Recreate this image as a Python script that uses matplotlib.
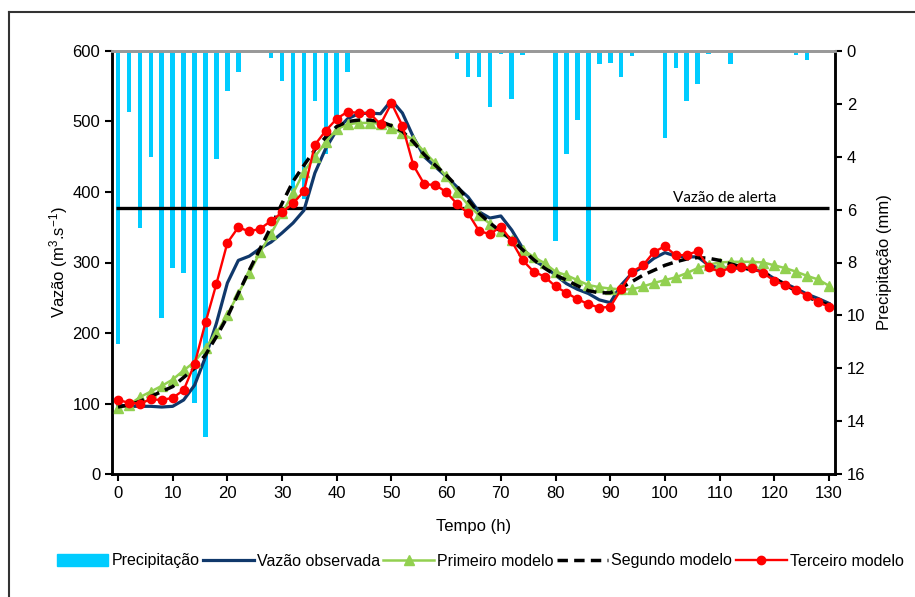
import matplotlib
matplotlib.use('Agg')
import matplotlib.pyplot as plt
from matplotlib.lines import Line2D
from matplotlib.patches import Patch

plt.rcParams['font.family'] = ['Liberation Sans', 'DejaVu Sans']
plt.rcParams['mathtext.fontset'] = 'custom'
plt.rcParams['mathtext.rm'] = 'Liberation Sans'
plt.rcParams['mathtext.it'] = 'Liberation Sans'

# ------------------------------------------------------------
#  dados (passo de 2 h)
# ------------------------------------------------------------
horas = list(range(0, 131, 2))

precipitacao = [11.1, 2.3, 6.7, 4.0, 10.1, 8.2, 8.4, 13.3, 14.6, 4.1,
                1.5, 0.8, 0.05, 0.05, 0.25, 1.15, 5.3, 5.6, 1.9, 3.9,
                2.7, 0.8, 0.05, 0.05, 0.05, 0.05, 0.05, 0.05, 0.05, 0.05,
                0.05, 0.3, 1.0, 1.0, 2.1, 0.1, 1.8, 0.15, 0.05, 0.05,
                7.2, 3.9, 2.6, 8.7, 0.5, 0.45, 1.0, 0.2, 0.05, 0.05,
                3.3, 0.65, 1.9, 1.25, 0.1, 0.05, 0.5, 0.05, 0.05, 0.05,
                0.05, 0.05, 0.15, 0.35, 0.05, 0.05]

vazao_obs = [98, 96, 96, 96, 95, 96, 105, 126, 166, 214,
             271, 303, 309, 320, 329, 342, 356, 374, 427, 462,
             488, 504, 511, 512, 511, 530, 512, 478, 450, 436,
             422, 407, 393, 372, 363, 366, 346, 320, 303, 294,
             282, 270, 262, 256, 247, 243, 268, 285, 294, 306,
             314, 309, 308, 308, 296, 292, 292, 292, 290, 287,
             277, 270, 263, 255, 249, 242]

primeiro = [93, 98, 109, 117, 125, 134, 147, 159, 179, 200,
            226, 256, 285, 315, 341, 370, 398, 429, 450, 471,
            489, 496, 498, 498, 497, 491, 483, 474, 457, 441,
            422, 400, 382, 367, 355, 344, 332, 318, 308, 299,
            287, 282, 275, 268, 265, 263, 262, 262, 266, 271,
            275, 279, 285, 292, 297, 300, 301, 301, 301, 300,
            296, 292, 287, 281, 276, 267]

segundo = [95, 98, 103, 110, 117, 124, 137, 150, 169, 195,
           223, 256, 289, 320, 351, 384, 415, 438, 460, 478,
           493, 500, 502, 502, 500, 494, 486, 471, 453, 438,
           424, 408, 389, 370, 356, 344, 332, 318, 304, 292,
           282, 275, 267, 260, 257, 257, 264, 273, 282, 289,
           296, 301, 305, 307, 306, 303, 298, 294, 289, 285,
           278, 268, 260, 252, 244, 240]

terceiro = [105, 101, 100, 106, 105, 108, 119, 156, 215, 270,
            328, 350, 344, 348, 359, 371, 384, 401, 467, 487,
            504, 514, 512, 512, 496, 526, 494, 438, 411, 410,
            400, 383, 370, 345, 340, 351, 330, 303, 287, 280,
            266, 257, 248, 241, 236, 237, 262, 287, 296, 315,
            323, 310, 311, 316, 293, 287, 292, 293, 292, 285,
            274, 268, 261, 253, 244, 237]

vazao_alerta = 377

COR_CHUVA = '#00CCFF'
COR_OBS = '#10386B'
COR_P1 = '#92D050'
COR_P3 = '#FF0000'

# ------------------------------------------------------------
#  figura
# ------------------------------------------------------------
W, H = 915, 597
fig = plt.figure(figsize=(W / 100, H / 100), dpi=100)
ax = fig.add_axes([112 / W, 1 - 474 / H, (835 - 112) / W, (474 - 51) / H])
ax2 = ax.twinx()
ax.set_zorder(ax2.get_zorder() + 1)
ax.patch.set_visible(False)

# precipitação (eixo invertido, à direita)
ax2.bar(horas, precipitacao, width=0.85, color=COR_CHUVA, linewidth=0)
ax2.set_ylim(16, 0)
ax2.set_yticks(range(0, 17, 2))
ax2.set_ylabel('Precipitação (mm)', fontsize=12, labelpad=8)

# vazões
ax.hlines(vazao_alerta, horas[0] - 0.4, horas[-1], color='black', lw=2.4)
ax.text(111, vazao_alerta + 5, 'Vazão de alerta', ha='center', va='bottom',
        fontsize=11, family=['Lato', 'DejaVu Sans'])
ax.plot(horas, vazao_obs, color=COR_OBS, lw=2.3)
ax.plot(horas, primeiro, color=COR_P1, lw=1.8, marker='^', markersize=6.5)
ax.plot(horas, segundo, color='black', lw=2.5, dashes=(3, 1.8))
ax.plot(horas, terceiro, color=COR_P3, lw=1.7, marker='o', markersize=6)

ax.set_xlim(-1.1, 131.1)
ax.set_ylim(0, 600)
ax.set_xticks(range(0, 131, 10))
ax.set_yticks(range(0, 601, 100))
ax.set_xlabel('Tempo (h)', fontsize=12, labelpad=13)
ax.set_ylabel('Vazão (m$^{3}$.s$^{-1}$)', fontsize=12)
ax.yaxis.set_label_coords(-0.058, 0.5)

for a in (ax, ax2):
    a.tick_params(labelsize=12, width=1.5, length=5, direction='out')
    a.spines['top'].set_color('#999999')
    a.spines['top'].set_linewidth(2)
    for s in ('left', 'right', 'bottom'):
        a.spines[s].set_linewidth(1.8)

# legenda
handles = [
    Patch(color=COR_CHUVA),
    Line2D([], [], color=COR_OBS, lw=2.3),
    Line2D([], [], color=COR_P1, lw=1.8, marker='^', markersize=6.5),
    Line2D([], [], color='black', lw=2.5, dashes=(3, 1.8)),
    Line2D([], [], color=COR_P3, lw=1.7, marker='o', markersize=6),
]
labels = ['Precipitação', 'Vazão observada', 'Primeiro modelo', 'Segundo modelo', 'Terceiro modelo']
fig.legend(handles, labels, loc='center', bbox_to_anchor=(0.525, 1 - 561 / H), ncol=5,
           frameon=False, handlelength=3.2, handletextpad=0.2, columnspacing=0.2,
           prop={'family': ['Liberation Sans Narrow', 'Liberation Sans'], 'size': 11.5})

# moldura externa
fig.add_artist(Line2D([8.5 / W, 8.5 / W], [0, 1 - 11.5 / H], color='#333333', lw=1.5))
fig.add_artist(Line2D([8.5 / W, 1], [1 - 11.5 / H, 1 - 11.5 / H], color='#333333', lw=1.5))

fig.savefig('out.png', dpi=100)
